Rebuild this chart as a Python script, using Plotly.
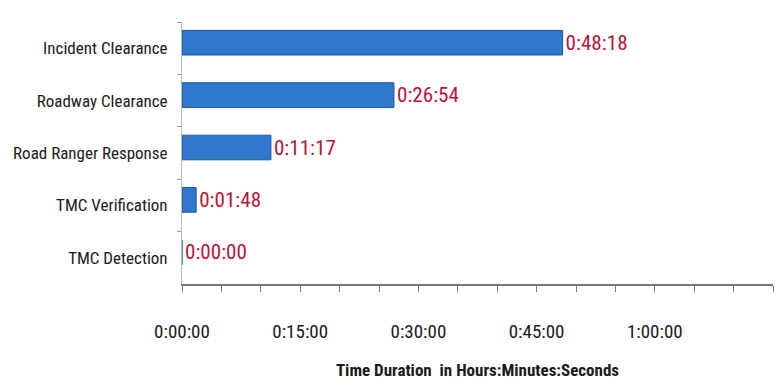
import plotly.graph_objects as go

categories = ["Incident Clearance", "Roadway Clearance", "Road Ranger Response",
              "TMC Verification", "TMC Detection"]
durations = ["0:48:18", "0:26:54", "0:11:17", "0:01:48", "0:00:00"]
tick_seconds = [0, 900, 1800, 2700, 3600]
tick_labels = ["0:00:00", "0:15:00", "0:30:00", "0:45:00", "1:00:00"]


def to_seconds(s):
    h, m, sec = (int(p) for p in s.split(":"))
    return h * 3600 + m * 60 + sec


values = [to_seconds(d) for d in durations]

FONT = "Liberation Sans Narrow, Arial Narrow, Roboto Condensed, sans-serif"

fig = go.Figure(go.Bar(
    y=categories,
    x=values,
    orientation="h",
    width=0.47,
    offset=-0.34,
    marker=dict(color="#2F78CC", line=dict(color="#1D58A0", width=1)),
    text=durations,
    textposition="outside",
    textfont=dict(family=FONT, size=24, color="#B8143A"),
    cliponaxis=False,
))

fig.update_layout(
    width=781, height=381,
    margin=dict(l=182, r=8, t=22, b=97, autoexpand=False),
    paper_bgcolor="white", plot_bgcolor="white",
    showlegend=False,
    font=dict(family=FONT, size=15, color="#1a1a1a"),
    xaxis=dict(
        range=[0, 4500],
        tickvals=tick_seconds,
        ticktext=tick_labels,
        ticks="outside", ticklen=6, tickcolor="#777",
        minor=dict(dtick=300, tick0=0, ticks="outside", ticklen=6, tickcolor="#777"),
        showline=True, linecolor="#777", linewidth=1.5,
        showgrid=False, zeroline=False,
        automargin=False,
        ticklabelstandoff=23,
        tickfont=dict(family=FONT, size=19, color="#1a1a1a"),
        title=dict(text="<b>Time Duration  in Hours:Minutes:Seconds</b>",
                   font=dict(family=FONT, size=17, color="#1a1a1a"), standoff=23),
    ),
    yaxis=dict(
        autorange="reversed",
        showline=True, linecolor="#bbb", linewidth=1,
        ticks="outside", ticklen=4, tickcolor="#999", tickson="boundaries",
        showgrid=False,
        automargin=False,
        tickfont=dict(family=FONT, size=17, color="#1a1a1a"),
        ticklabelstandoff=10,
    ),
)

fig.write_html("out.html")
